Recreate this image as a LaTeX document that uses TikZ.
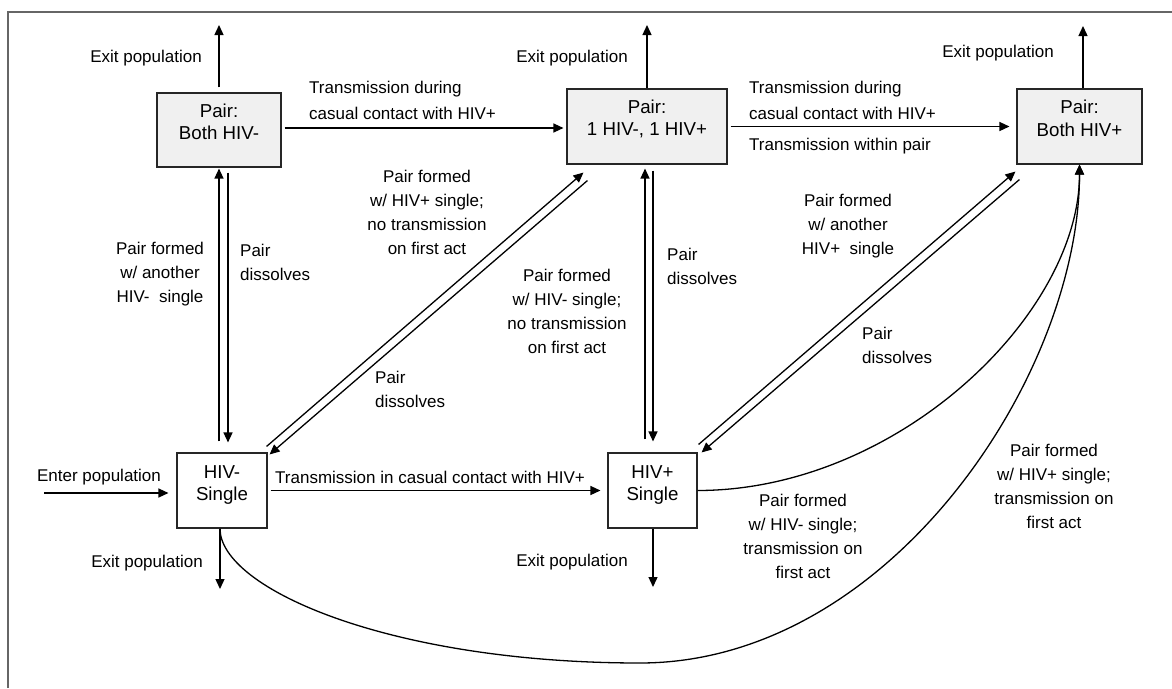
\documentclass[tikz,border=0pt]{standalone}
\usepackage{fontspec}
\setmainfont{Liberation Sans}
\usetikzlibrary{arrows.meta,calc}
\begin{document}
\begin{tikzpicture}[x=1pt,y=-1pt,
  pairbox/.style={draw=black!85, line width=1.1pt, fill=black!6, inner sep=0pt},
  singlebox/.style={draw=black!85, line width=1.1pt, fill=white, inner sep=0pt},
  boxtext/.style={font=\fontsize{18.7}{22.5}\selectfont, align=center, inner sep=0pt},
  lbl/.style={font=\fontsize{17}{24}\selectfont, inner sep=0pt},
  arr/.style={line width=1.3pt, -{Triangle[length=10pt,width=9pt]}},
  ln/.style={line width=1.3pt}
]
\useasboundingbox (0,0) rectangle (1172,688);
\draw[black!60, line width=1.6pt] (8,688) -- (8,12) -- (1172,12);

% boxes
\node[pairbox, minimum width=124pt, minimum height=74pt] (A) at (219,130) {};
\node[pairbox, minimum width=160pt, minimum height=75pt] (B) at (647,126.5) {};
\node[pairbox, minimum width=125pt, minimum height=75pt] (C) at (1079.5,126.5) {};
\node[singlebox, minimum width=90pt, minimum height=75pt] (D) at (222,490.5) {};
\node[singlebox, minimum width=89pt, minimum height=75pt] (E) at (652.5,490.5) {};
\node[boxtext] (At) at (219,122) {Pair:\\Both HIV-};
\node[boxtext] (Bt) at (647,119) {Pair:\\1 HIV-, 1 HIV+};
\node[boxtext] (Ct) at (1079.5,118.5) {Pair:\\Both HIV+};
\node[boxtext] (Dt) at (222,485) {HIV-\\Single};
\node[boxtext] (Et) at (652.5,485) {HIV+\\Single};

% free ends
\coordinate (Aout) at (219,25);
\coordinate (Bout) at (647,25);
\coordinate (Cout) at (1083,26);
\coordinate (Dout) at (220,589);
\coordinate (Eout) at (653,587);
\coordinate (Din) at (44,493);
\coordinate (bot) at (640,663);

% exits and entry
\draw[arr, shorten <=5pt] (A) -- (Aout);
\draw[arr] (B) -- (Bout);
\draw[arr] (C.north -| Cout) -- (Cout);
\draw[arr] (D.south -| Dout) -- (Dout);
\draw[arr] (E.south -| Eout) -- (Eout);
\draw[arr, shorten >=8pt] (Din) -- (D.west |- Din);

% horizontal transmissions
\draw[arr] ($(A.east)+(3,-2)$) -- ($(A.east -| B.west)+(-3,-2)$);
\draw[arr, shorten <=3pt, shorten >=7pt] (B.east) -- (B.east -| C.west);
\draw[arr, shorten <=3pt, shorten >=7pt] (D.east) -- (E.west);

% A <-> D
\draw[arr] ($(D.north)+(-3,-11)$) -- ($(A.south)+(0,1)$);
\draw[arr] ($(A.south)+(9,5)$) -- ($(D.north)+(6,-10)$);
% D <-> B
\draw[arr] ($(D.north east)+(-1,-6)$) -- ($(B.south west)+(17,8)$);
\draw[arr] ($(B.south west)+(21,16)$) -- ($(D.north east)+(2,2)$);
% B <-> E
\draw[arr] ($(E.north)+(-7.5,-13)$) -- ($(B.south)+(-2,4)$);
\draw[arr] ($(B.south)+(6,6)$) -- ($(E.north)+(0.5,-11)$);
% E <-> C
\draw[arr] ($(E.north east)+(1,-8)$) -- ($(C.south west)+(-1,7)$);
\draw[arr] ($(C.south west)+(3,15)$) -- ($(E.north east)+(4,0)$);

% curves
\draw[arr] (E.east) .. controls +(200,0) and +(0,150) .. (C.south);
\draw[arr] (D.south -| Dout) .. controls +(0,60) and +(-250,0) .. (bot)
  .. controls +(250,0) and +(0,210) .. (C.south);

% labels
\node[lbl, anchor=east] (lA) at (202,58) {Exit population};
\node[lbl, anchor=east] (lB) at (628,58) {Exit population};
\node[lbl, anchor=east] (lC) at (1054,53) {Exit population};
\node[lbl, anchor=east] (lD) at (203,563) {Exit population};
\node[lbl, anchor=east] (lE) at (628,562) {Exit population};
\node[lbl] (lEnter) at (99,477) {Enter population};
\node[lbl, anchor=west, align=left, font=\fontsize{17}{26}\selectfont] (lAB) at (309,100) {Transmission during\\casual contact with HIV+};
\node[lbl, anchor=west, align=left, font=\fontsize{17}{26}\selectfont] (lBC) at (749,100) {Transmission during\\casual contact with HIV+};
\node[lbl, anchor=west] (lBC2) at (749,146) {Transmission within pair};
\node[lbl, anchor=west] (lDE) at (275,477) {Transmission in casual contact with HIV+};
\node[lbl, align=center] (lAD1) at (160,274) {Pair formed\\w/ another\\HIV-\ \ single};
\node[lbl, anchor=west, align=left] (lAD2) at (240,262) {Pair\\dissolves};
\node[lbl, align=center] (lDB1) at (427,212) {Pair formed\\w/ HIV+ single;\\no transmission\\on first act};
\node[lbl, anchor=west, align=left] (lDB2) at (375,389) {Pair\\dissolves};
\node[lbl, anchor=west, align=left] (lBE2) at (667,266) {Pair\\dissolves};
\node[lbl, align=center] (lBE1) at (567,311) {Pair formed\\w/ HIV- single;\\no transmission\\on first act};
\node[lbl, align=center] (lEC1) at (848,226) {Pair formed\\w/ another\\HIV+\ \ single};
\node[lbl, anchor=west, align=left] (lEC2) at (862,345) {Pair\\dissolves};
\node[lbl, align=center] (lEC3) at (803,536) {Pair formed\\w/ HIV- single;\\transmission on\\first act};
\node[lbl, align=center] (lDC) at (1054,486) {Pair formed\\w/ HIV+ single;\\transmission on\\first act};
\end{tikzpicture}
\end{document}
